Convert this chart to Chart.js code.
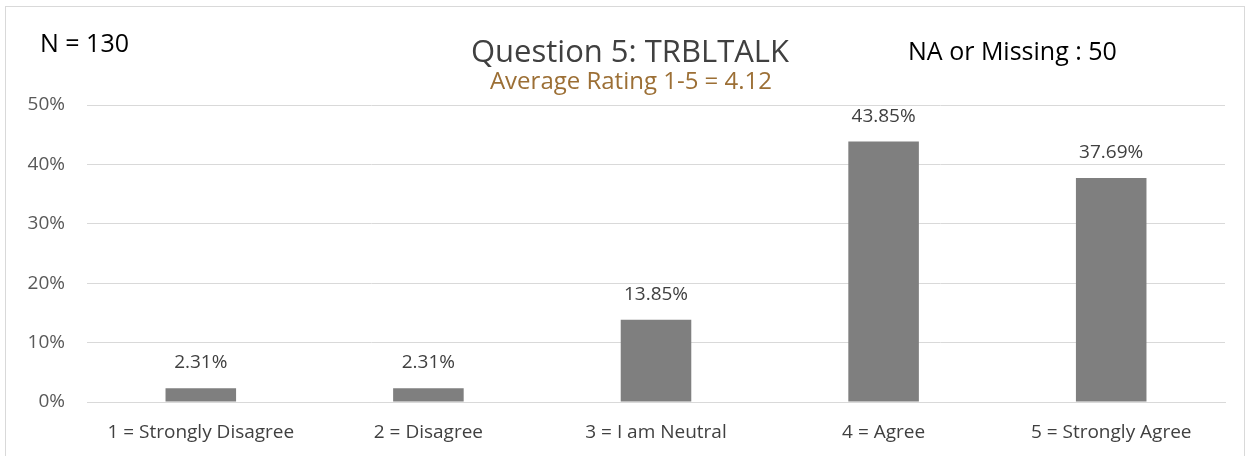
<!DOCTYPE html>
<html>
<head>
<meta charset="utf-8">
<script src="https://cdn.jsdelivr.net/npm/chart.js@4"></script>
<style>
    html, body { margin: 0; padding: 0; background: #fff; }
    #frame {
        position: absolute; left: 5px; top: 6px;
        width: 1240px; height: 460px;
        border: 1px solid #d9d9d9; box-sizing: border-box;
    }
    #wrap { position: absolute; left: 0; top: 0; width: 1249px; height: 456px; }
</style>
</head>
<body>
<div id="frame"></div>
<div id="wrap"><canvas id="chart" width="1249" height="456"></canvas></div>
<script>
// Chart data
const categories = ['1 = Strongly Disagree', '2 = Disagree', '3 = I am Neutral', '4 = Agree', '5 = Strongly Agree'];
const percents = [2.31, 2.31, 13.85, 43.85, 37.69];
const yTicks = [0, 10, 20, 30, 40, 50];

const titleText = 'Question 5: TRBLTALK';
const subtitleText = 'Average Rating 1-5 = 4.12';
const countText = 'N = 130';
const missingText = 'NA or Missing : 50';

const FONT = "'Open Sans', sans-serif";

// Titles, corner notes and value labels above bars
const labelsPlugin = {
    id: 'labels',
    afterDatasetsDraw(chart) {
        const ctx = chart.ctx;
        const meta = chart.getDatasetMeta(0);
        ctx.save();
        ctx.textBaseline = 'alphabetic';

        // value labels
        ctx.fillStyle = '#404040';
        ctx.font = '19px ' + FONT;
        ctx.textAlign = 'center';
        meta.data.forEach((bar, i) => {
            ctx.fillText(percents[i].toFixed(2) + '%', bar.x, bar.y - 20);
        });

        // title + subtitle
        ctx.font = '31px ' + FONT;
        ctx.fillText(titleText, 630, 62);
        ctx.fillStyle = '#9c6f35';
        ctx.font = '24px ' + FONT;
        ctx.fillText(subtitleText, 631, 89);

        // corner notes
        ctx.fillStyle = '#000';
        ctx.font = '25px ' + FONT;
        ctx.textAlign = 'left';
        ctx.fillText(countText, 40, 52);
        ctx.fillText(missingText, 908, 60);
        ctx.restore();
    }
};

const ctx = document.getElementById('chart').getContext('2d');
new Chart(ctx, {
    type: 'bar',
    data: {
        labels: categories,
        datasets: [{
            data: percents,
            backgroundColor: '#7f7f7f',
            categoryPercentage: 1,
            barPercentage: 0.31
        }]
    },
    options: {
        responsive: false,
        animation: false,
        layout: { padding: { left: 0, right: 24, top: 105, bottom: 0 } },
        plugins: {
            legend: { display: false },
            tooltip: { enabled: false }
        },
        scales: {
            x: {
                grid: { display: false, drawTicks: false },
                border: { color: '#d9d9d9' },
                ticks: {
                    color: '#404040',
                    font: { family: FONT, size: 19 },
                    padding: 19,
                    maxRotation: 0
                },
                afterFit(scale) { scale.height = 54; }
            },
            y: {
                min: 0,
                max: 50,
                afterBuildTicks(scale) {
                    scale.ticks = yTicks.map(v => ({ value: v }));
                },
                grid: { color: '#d9d9d9', drawTicks: false },
                border: { display: false },
                ticks: {
                    color: '#595959',
                    font: { family: FONT, size: 19 },
                    padding: 22,
                    callback: v => v + '%'
                },
                afterFit(scale) { scale.width = 87; }
            }
        }
    },
    plugins: [labelsPlugin]
});
</script>
</body>
</html>
